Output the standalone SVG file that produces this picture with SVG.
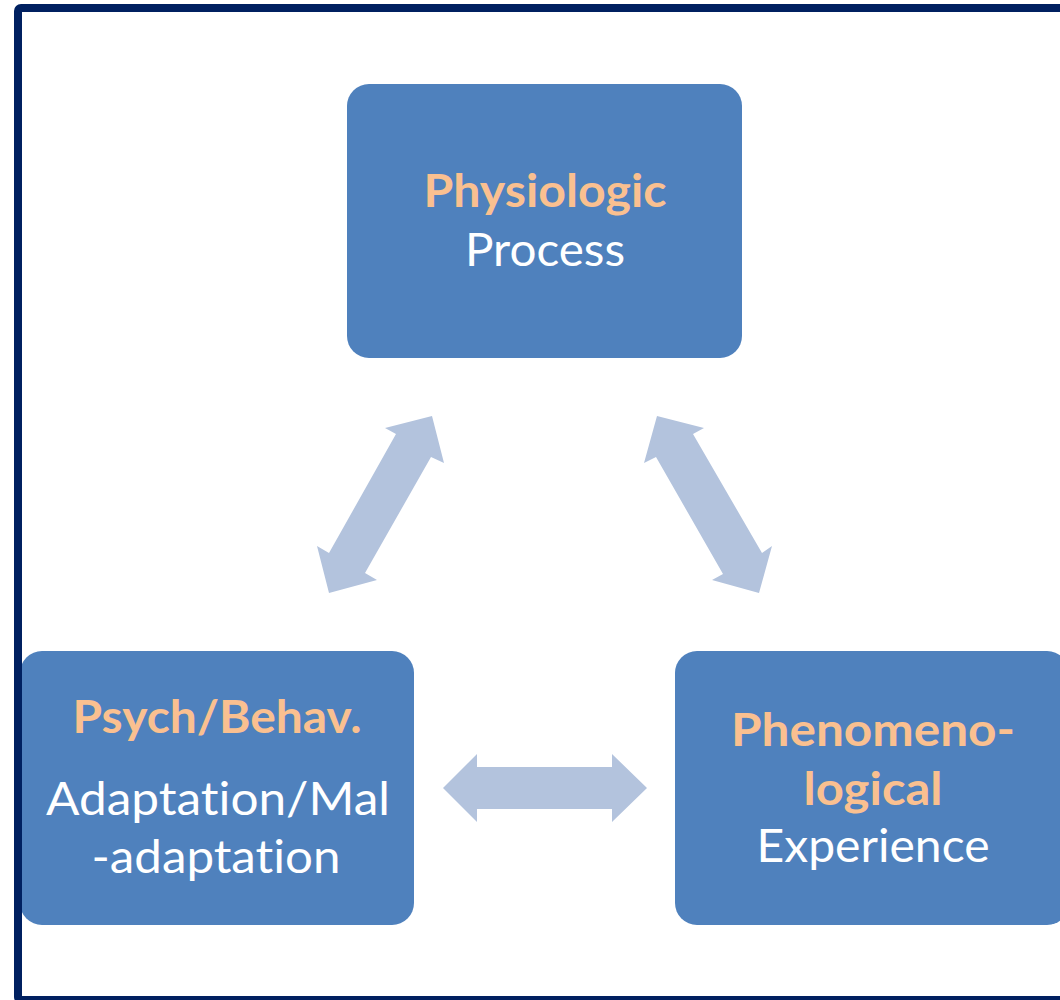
<svg xmlns="http://www.w3.org/2000/svg" width="1060" height="1000" viewBox="0 0 1060 1000">
  <style>
    .box { fill: #4F81BD; }
    .arrow { fill: #B3C3DD; }
    text { font-family: Lato, "Open Sans", "Liberation Sans", sans-serif; font-size: 46px; text-anchor: middle; font-variant-ligatures: none; font-feature-settings: "liga" 0, "clig" 0; }
    .hd { fill: #FAC090; font-weight: bold; }
    .bd { fill: #FFFFFF; }
  </style>
  <rect x="0" y="0" width="1060" height="1000" fill="#FFFFFF"/>
  <g id="connectors">
    <polygon class="arrow" points="432,416 444,463 431,457 365,573 377,580 329,593 317,546 329,553 396,434 385,428"/>
    <polygon class="arrow" points="657,416 704,428 693,434 762,553 772,546 759,593 712,580 723,574 656,457 644,463"/>
    <polygon class="arrow" points="443,788 477,754 477,767 612,767 612,754 647,788 612,822 612,809 477,809 477,822"/>
  </g>
  <g id="node-physiologic">
    <rect class="box" x="347" y="84" width="395" height="274" rx="22"/>
    <text class="hd" x="545" y="207" textLength="243" lengthAdjust="spacingAndGlyphs">Physiologic</text>
    <text class="bd" x="545" y="266" textLength="160" lengthAdjust="spacingAndGlyphs">Process</text>
  </g>
  <g id="node-psych">
    <rect class="box" x="20" y="651" width="394" height="274" rx="22"/>
    <text class="hd" x="217" y="733" textLength="289" lengthAdjust="spacingAndGlyphs">Psych/Behav.</text>
    <text class="bd" x="218" y="815" textLength="344" lengthAdjust="spacingAndGlyphs">Adaptation/Mal</text>
    <text class="bd" x="216" y="873" textLength="249" lengthAdjust="spacingAndGlyphs">-adaptation</text>
  </g>
  <g id="node-phenomenological">
    <rect class="box" x="675" y="651" width="394" height="274" rx="22"/>
    <text class="hd" x="873" y="746" textLength="284" lengthAdjust="spacingAndGlyphs">Phenomeno-</text>
    <text class="hd" x="873" y="805" textLength="139" lengthAdjust="spacingAndGlyphs">logical</text>
    <text class="bd" x="873" y="862" textLength="233" lengthAdjust="spacingAndGlyphs">Experience</text>
  </g>
  <rect id="frame" x="18" y="8" width="1100" height="992" rx="3" fill="none" stroke="#002060" stroke-width="8"/>
</svg>
